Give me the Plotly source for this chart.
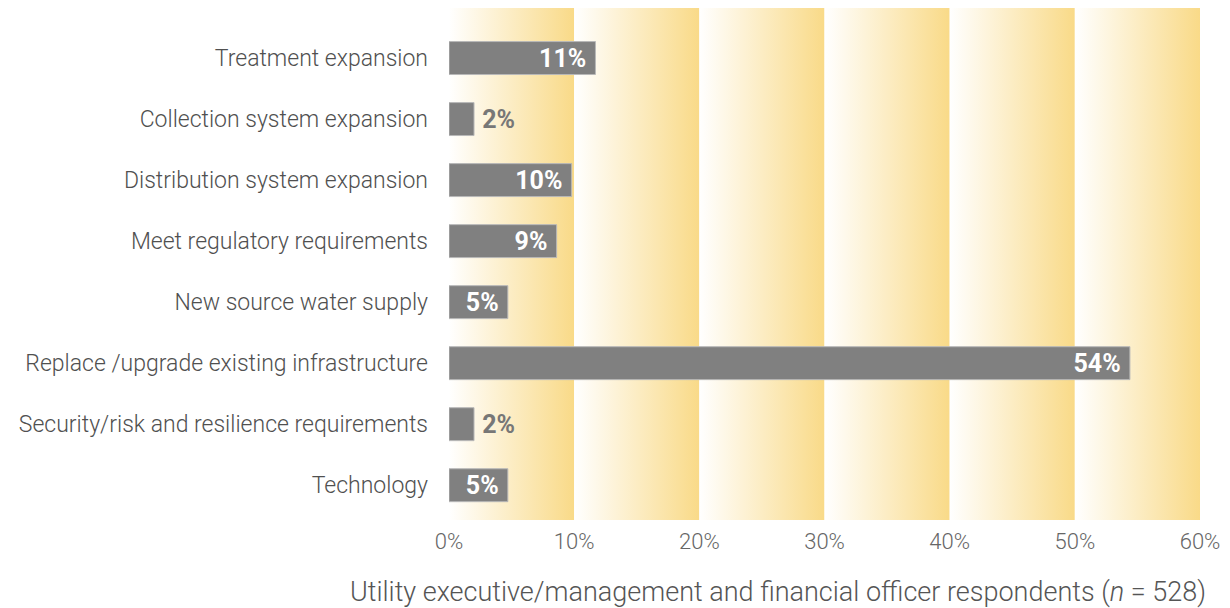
import plotly.graph_objects as go

categories = [
    "Treatment expansion",
    "Collection system expansion",
    "Distribution system expansion",
    "Meet regulatory requirements",
    "New source water supply",
    "Replace /upgrade existing infrastructure",
    "Security/risk and resilience requirements",
    "Technology",
]
bar_values = [11.7, 2.0, 9.8, 8.6, 4.7, 54.4, 2.0, 4.7]
labels = ["11%", "2%", "10%", "9%", "5%", "54%", "2%", "5%"]
tick_values = [0, 10, 20, 30, 40, 50, 60]
tick_labels = ["0%", "10%", "20%", "30%", "40%", "50%", "60%"]
axis_title = "Utility executive/management and financial officer respondents (<i>n</i> = 528)"

ypos = list(range(len(categories)))
Y_TOP, Y_BOT = -0.82, 7.57

fig = go.Figure()

# gradient bands (base axes, drawn beneath)
for i in range(len(tick_values) - 1):
    x0, x1 = tick_values[i], tick_values[i + 1]
    fig.add_trace(go.Scatter(
        x=[x0, x1, x1, x0, x0], y=[Y_TOP, Y_TOP, Y_BOT, Y_BOT, Y_TOP],
        mode="lines", line=dict(width=0), fill="toself",
        fillgradient=dict(type="horizontal",
                          colorscale=[[0, "rgba(255,255,255,1)"], [1, "#F9DA88"]]),
        hoverinfo="skip", showlegend=False,
    ))

positions = ["outside" if v < 4 else "inside" for v in bar_values]
shown = [("\u2009" + t) if p == "outside" else (t + "\u00a0") for t, p in zip(labels, positions)]
fig.add_trace(go.Bar(
    x=bar_values, y=ypos, orientation="h", width=0.54,
    xaxis="x2", yaxis="y2",
    marker=dict(color="#808080", line=dict(color="#b8b8b8", width=1)),
    text=shown, textposition=positions, insidetextanchor="end",
    insidetextfont=dict(family="Roboto", size=25, color="white", weight="bold"),
    outsidetextfont=dict(family="Roboto", size=25, color="#777777", weight="bold"),
    constraintext="none", cliponaxis=False, showlegend=False,
))

fig.add_annotation(
    text=axis_title, xref="paper", yref="paper",
    x=(778 - 449) / 751, y=-(592 - 520) / 512, xanchor="center", yanchor="middle",
    showarrow=False, font=dict(family="Roboto", size=27, color="#555555", weight=300),
)

fig.update_layout(
    width=1230, height=608,
    margin=dict(l=449, r=30, t=8, b=88),
    plot_bgcolor="white", paper_bgcolor="white",
    font=dict(family="Roboto", color="#555555"),
    xaxis=dict(range=[0, 60], tickvals=tick_values, ticktext=tick_labels,
               showgrid=False, zeroline=False, showline=False, ticks="",
               automargin=False, ticklabelstandoff=6,
               tickfont=dict(size=22, color="#666666", weight=300)),
    yaxis=dict(range=[Y_BOT, Y_TOP], tickvals=ypos, ticktext=categories,
               showgrid=False, zeroline=False, showline=False, ticks="",
               automargin=False, ticklabelstandoff=20,
               tickfont=dict(size=23, color="#505050", weight=300)),
    xaxis2=dict(overlaying="x", range=[0, 60], visible=False),
    yaxis2=dict(overlaying="y", range=[Y_BOT, Y_TOP], visible=False),
)

fig.write_html("out.html", config={"displayModeBar": False},
               post_script="document.body.style.margin='0';document.body.style.overflow='hidden';")
